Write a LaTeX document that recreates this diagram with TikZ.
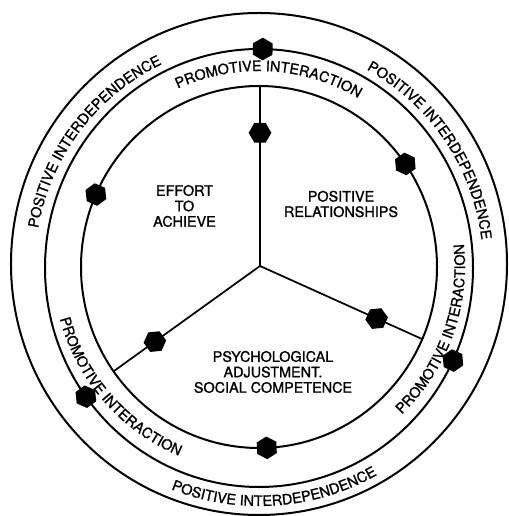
\documentclass[tikz,border=0pt]{standalone}
\usepackage{fontspec}
\setmainfont{TeX Gyre Heros}
\newfontfamily\heavyfont{TeX Gyre Heros}[FakeBold=1.2]
\usetikzlibrary{shapes.geometric,decorations.text}

\newcommand{\ringfont}{\heavyfont\fontsize{10.8}{11.6}\selectfont}

\tikzset{
  ring/.style={line width=1.5pt},
  spoke/.style={line width=1.3pt},
  knob/.style={regular polygon, regular polygon sides=6, fill=black, draw=none, inner sep=0pt, minimum size=17pt},
  areatext/.style={align=center, inner sep=0.75pt, font=\ringfont},
  bandtext/.style={decorate, decoration={text along path, text={|\ringfont|#1}, text align=center}}
}

\begin{document}
\begin{tikzpicture}[x=0.75pt,y=0.75pt]
    \useasboundingbox (-259,-250) rectangle (249,266);

    %Shape: Ellipse [outer ring]
    \draw[ring] (0,2) ellipse [x radius=248, y radius=251];
    %Shape: Ellipse [middle ring]
    \draw[ring] (0,-2) ellipse [x radius=214, y radius=219];
    %Shape: Ellipse [inner ring]
    \draw[ring] (0,-1) ellipse [x radius=178, y radius=181];

    %Straight Lines [spokes]
    \coordinate (hub) at (1,0);
    \coordinate (top end) at (1,180);
    \coordinate (right end) at (163,-73);
    \coordinate (left end) at (-145,-105);
    \draw[spoke] (hub) -- (top end);
    \draw[spoke] (hub) -- (right end);
    \draw[spoke] (hub) -- (left end);

    %Shape: Hexagons on the spokes
    \path (hub) -- (top end) node[knob, pos=.74] (k top) {};
    \path (hub) -- (right end) node[knob, pos=.72, rotate=65.7] (k right) {};
    \path (hub) -- (left end) node[knob, pos=.72, rotate=305.7] (k left) {};

    %Shape: Hexagons on the middle ring
    \node[knob, rotate=89] (m top) at ([shift={(0,-2)}]89:214 and 219) {};
    \node[knob, rotate=-25] (m right) at ([shift={(0,-2)}]-25:214 and 219) {};
    \node[knob, rotate=216] (m left) at ([shift={(0,-2)}]216:214 and 219) {};

    %Shape: Hexagons on the inner ring
    \node[knob, rotate=34.7] (i right) at ([shift={(0,-1)}]34.7:178 and 181) {};
    \node[knob, rotate=156.4] (i left) at ([shift={(0,-1)}]156.4:178 and 181) {};
    \node[knob, rotate=-87.5] (i bottom) at ([shift={(0,-1)}]-87.5:178 and 181) {};

    % Text Node
    \node[areatext] (effort) at (-74.5,60) {EFFORT\\TO\\ACHIEVE};
    % Text Node
    \node[areatext] (relations) at (82,62) {POSITIVE\\RELATIONSHIPS};
    % Text Node
    \node[areatext] (adjust) at (14,-106) {PSYCHOLOGICAL\\ADJUSTMENT.\\SOCIAL COMPETENCE};

    % Curved Text [middle band]
    \path[bandtext={PROMOTIVE INTERACTION}] (127:195) arc[start angle=127, end angle=47, radius=195];
    \path[bandtext={PROMOTIVE INTERACTION}] (190:206) arc[start angle=190, end angle=252, radius=206];
    \path[bandtext={PROMOTIVE INTERACTION}] (-51:206) arc[start angle=-51, end angle=11, radius=206];

    % Curved Text [outer band]
    \path[bandtext={POSITIVE INTERDEPENDENCE}] (173:224) arc[start angle=173, end angle=113, radius=224];
    \path[bandtext={POSITIVE INTERDEPENDENCE}] (64:224) arc[start angle=64, end angle=4, radius=224];
    \path[bandtext={POSITIVE INTERDEPENDENCE}] (240:240) arc[start angle=240, end angle=308, radius=240];

\end{tikzpicture}
\end{document}
